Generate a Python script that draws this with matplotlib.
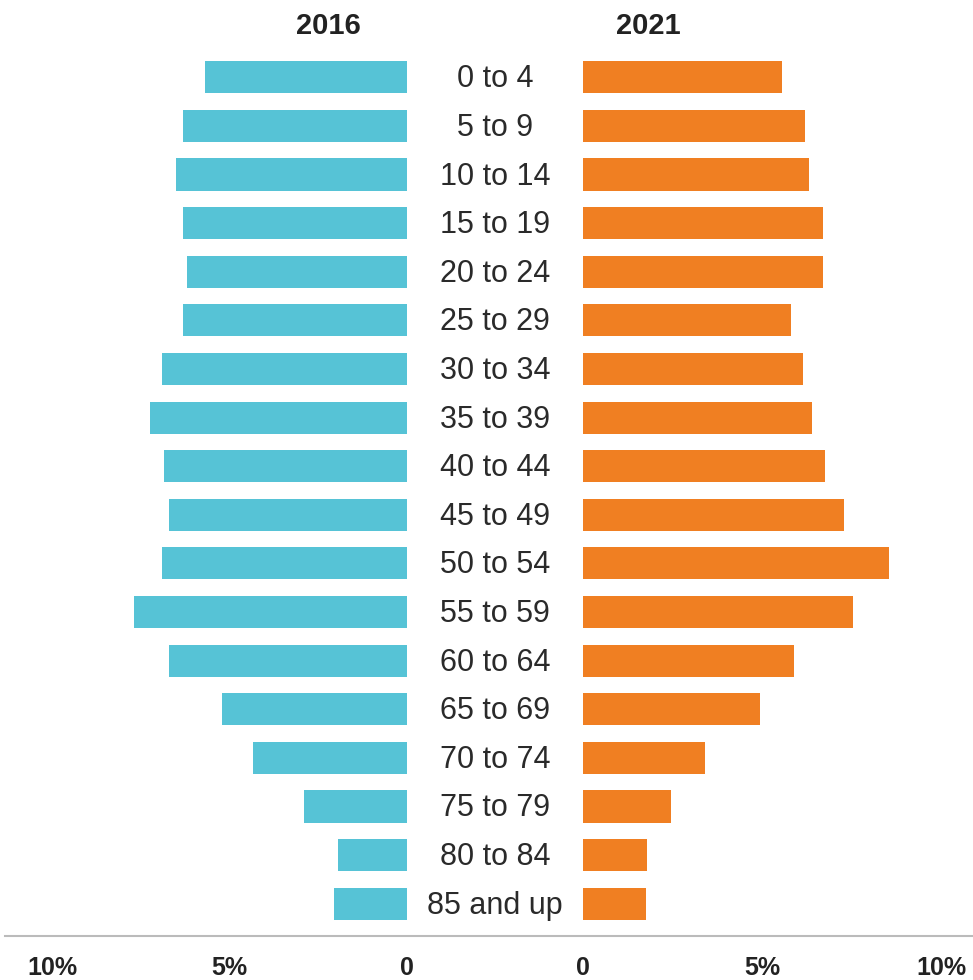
import matplotlib.pyplot as plt
from matplotlib.lines import Line2D

ages = ["0 to 4", "5 to 9", "10 to 14", "15 to 19", "20 to 24", "25 to 29",
        "30 to 34", "35 to 39", "40 to 44", "45 to 49", "50 to 54", "55 to 59",
        "60 to 64", "65 to 69", "70 to 74", "75 to 79", "80 to 84", "85 and up"]
share_2016 = [5.7, 6.3, 6.5, 6.3, 6.2, 6.3, 6.9, 7.25, 6.85, 6.7, 6.9, 7.7,
              6.7, 5.2, 4.35, 2.9, 1.95, 2.05]
share_2021 = [5.55, 6.2, 6.3, 6.7, 6.7, 5.8, 6.15, 6.4, 6.75, 7.3, 8.55, 7.55,
              5.9, 4.95, 3.4, 2.45, 1.8, 1.75]
tick_vals = [10, 5, 0]
tick_labels = ["10%", "5%", "0"]

W, H = 973, 980
fig = plt.figure(figsize=(W / 100, H / 100), dpi=100)
fig.patch.set_facecolor("white")

top, bottom = 53, 928
ax_l = fig.add_axes([52 / W, 1 - bottom / H, (407 - 52) / W, (bottom - top) / H])
ax_r = fig.add_axes([583 / W, 1 - bottom / H, (941 - 583) / W, (bottom - top) / H])

ypos = list(range(len(ages)))
ax_l.barh(ypos, share_2016, height=0.66, color="#56C3D6")
ax_r.barh(ypos, share_2021, height=0.66, color="#F07F22")

ax_l.set_xlim(10, 0)
ax_r.set_xlim(0, 10)
for ax in (ax_l, ax_r):
    ax.set_ylim(len(ages) - 0.5, -0.5)
    ax.set_yticks([])
    for s in ax.spines.values():
        s.set_visible(False)
    ax.set_facecolor("none")
    ax.tick_params(axis="x", length=0, pad=20)

tick_font = dict(fontsize=18, fontweight="bold", family="Liberation Sans", color="#222222")
ax_l.set_xticks(tick_vals)
ax_l.set_xticklabels(tick_labels, **tick_font)
ax_r.set_xticks(tick_vals[::-1])
ax_r.set_xticklabels(tick_labels[::-1], **tick_font)

for i, a in enumerate(ages):
    ax_l.annotate(a, xy=(0, i), xycoords="data", xytext=(495 - 407, -2),
                  textcoords="offset pixels", ha="center", va="center",
                  fontsize=22, family="Liberation Sans", color="#2a2a2a")

fig.text(328 / W, 1 - 26 / H, "2016", ha="center", va="center", fontsize=21,
         fontweight="bold", family="Liberation Sans", color="#222222")
fig.text(648 / W, 1 - 26 / H, "2021", ha="center", va="center", fontsize=21,
         fontweight="bold", family="Liberation Sans", color="#222222")

fig.add_artist(Line2D([5 / W, 1], [1 - 936 / H, 1 - 936 / H], color="#BBBBBB", lw=1.5))

fig.savefig("out.png", dpi=100)
